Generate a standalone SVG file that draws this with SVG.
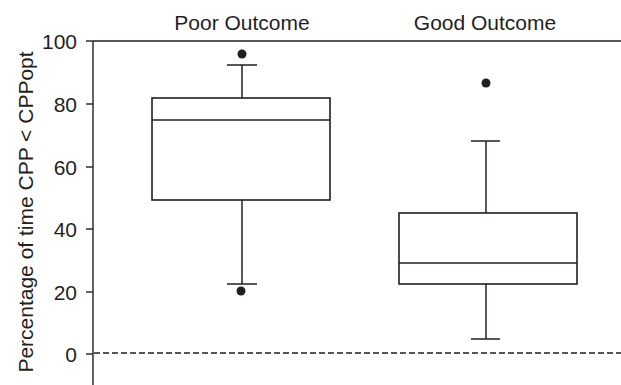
<svg xmlns="http://www.w3.org/2000/svg" width="621" height="385" viewBox="0 0 621 385">
<style>
text{font-family:"Liberation Sans",Arial,sans-serif;fill:#231f20}
.t{font-size:21px}
.ax{stroke:#231f20;stroke-width:1.4;fill:none}
.bx{stroke:#231f20;stroke-width:1.6;fill:#fff}
.wh{stroke:#231f20;stroke-width:1.5;fill:none}
.dot{fill:#231f20}
</style>
<rect width="621" height="385" fill="#fff"/>
<g id="axes">
<line class="ax" x1="93" y1="41" x2="93" y2="385"/>
<line class="ax" x1="93" y1="41" x2="621" y2="41"/>
<line class="ax" x1="86" y1="41" x2="93" y2="41"/>
<line class="ax" x1="86" y1="104" x2="93" y2="104"/>
<line class="ax" x1="86" y1="167" x2="93" y2="167"/>
<line class="ax" x1="86" y1="229" x2="93" y2="229"/>
<line class="ax" x1="86" y1="292" x2="93" y2="292"/>
<line class="ax" x1="86" y1="354" x2="93" y2="354"/>
<g class="t" text-anchor="end">
<text x="77" y="48.5">100</text>
<text x="77" y="111.5">80</text>
<text x="77" y="174.5">60</text>
<text x="77" y="236.5">40</text>
<text x="77" y="299.5">20</text>
<text x="77" y="361.5">0</text>
</g>
<text class="t" text-anchor="middle" transform="translate(33,212) rotate(-90)">Percentage of time CPP &lt; CPPopt</text>
<line class="ax" x1="94" y1="353" x2="621" y2="353" stroke-dasharray="6,3"/>
</g>
<g id="poor">
<text class="t" x="242" y="29.5" text-anchor="middle">Poor Outcome</text>
<line class="wh" x1="242" y1="65" x2="242" y2="98"/>
<line class="wh" x1="227" y1="65" x2="257" y2="65"/>
<line class="wh" x1="242" y1="200" x2="242" y2="284"/>
<line class="wh" x1="227" y1="284" x2="257" y2="284"/>
<rect class="bx" x="152" y="98" width="178" height="102"/>
<line class="wh" x1="152" y1="120" x2="330" y2="120"/>
<circle class="dot" cx="242" cy="54" r="4.5"/>
<circle class="dot" cx="241" cy="291" r="4.5"/>
</g>
<g id="good">
<text class="t" x="485" y="29.5" text-anchor="middle">Good Outcome</text>
<line class="wh" x1="486" y1="141" x2="486" y2="213"/>
<line class="wh" x1="471" y1="141" x2="500" y2="141"/>
<line class="wh" x1="486" y1="284" x2="486" y2="339"/>
<line class="wh" x1="471" y1="339" x2="500" y2="339"/>
<rect class="bx" x="399" y="213" width="178" height="71"/>
<line class="wh" x1="399" y1="263" x2="577" y2="263"/>
<circle class="dot" cx="486" cy="83" r="4.5"/>
</g>
</svg>
